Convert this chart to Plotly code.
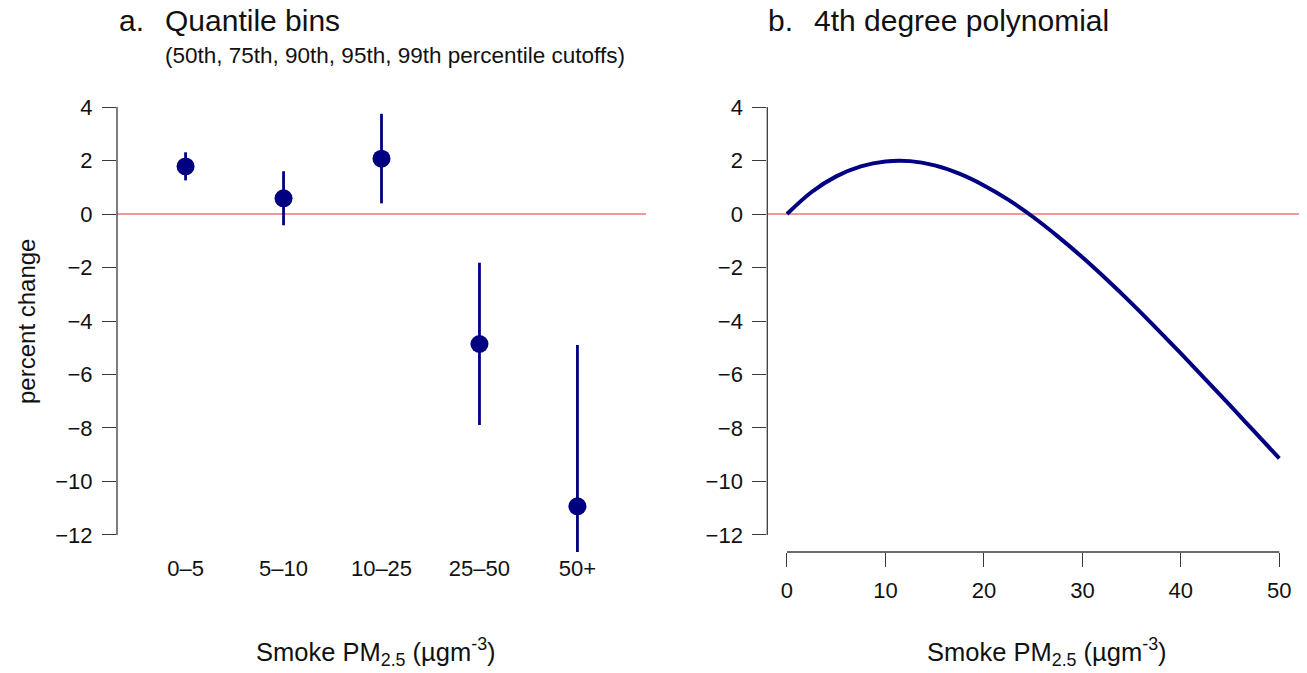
import plotly.graph_objects as go

# Panel a: effect estimates by smoke PM2.5 bin, with 95% intervals
bins = ["0–5", "5–10", "10–25", "25–50", "50+"]
bin_pos = [1, 2, 3, 4, 5]
estimate = [1.78, 0.59, 2.07, -4.86, -10.93]
ci_low = [1.26, -0.42, 0.40, -7.89, -16.96]
ci_high = [2.31, 1.60, 3.75, -1.82, -4.90]

# Panel b: fitted 4th degree polynomial response
pm_x = [0, 2.5, 5, 7.5, 10, 12.5, 15, 17.5, 20, 22.5, 25, 27.5, 30,
        32.5, 35, 37.5, 40, 42.5, 45, 47.5, 50]
pm_y = [0.0, 0.825, 1.41, 1.785, 1.97, 1.98, 1.82, 1.51, 1.07, 0.53, -0.11,
        -0.835, -1.62, -2.46, -3.34, -4.265, -5.215, -6.18, -7.16, -8.15, -9.14]

y_ticks = [4, 2, 0, -2, -4, -6, -8, -10, -12]
x2_ticks = [0, 10, 20, 30, 40, 50]

W, H = 1307, 673
NAVY = "#000080"
ZERO = "#F29A9A"
AXC = "#3a3a3a"
FONT = "Liberation Sans, Arial, Helvetica, sans-serif"


def px(x):
    return x / W


def py(y):
    return 1 - y / H


fig = go.Figure()

# interval segments (one trace, separated by gaps)
seg_x, seg_y = [], []
for p, lo, hi in zip(bin_pos, ci_low, ci_high):
    seg_x += [p, p, None]
    seg_y += [lo, hi, None]
fig.add_trace(go.Scatter(x=seg_x, y=seg_y, mode="lines",
                         line=dict(color=NAVY, width=2.8),
                         xaxis="x", yaxis="y", showlegend=False, hoverinfo="skip"))
fig.add_trace(go.Scatter(x=bin_pos, y=estimate, mode="markers",
                         marker=dict(color=NAVY, size=18),
                         xaxis="x", yaxis="y", showlegend=False))

fig.add_trace(go.Scatter(x=pm_x, y=pm_y, mode="lines",
                         line=dict(color=NAVY, width=4, shape="spline", smoothing=1.0),
                         xaxis="x2", yaxis="y2", showlegend=False))

y_dom = [py(552), py(90)]
y_rng = [-12.64, 4.64]
tickfont = dict(family=FONT, size=22, color="#111111")

yaxis_common = dict(
    domain=y_dom, range=y_rng, tickmode="array", tickvals=y_ticks,
    ticks="outside", ticklen=14, tickwidth=1.3, tickcolor=AXC,
    showline=False, showgrid=False, zeroline=False, tickfont=tickfont,
    ticklabelstandoff=5,
)

fig.update_layout(
    width=W, height=H, autosize=False,
    margin=dict(l=0, r=0, t=0, b=0),
    paper_bgcolor="white", plot_bgcolor="white",
    font=dict(family=FONT, color="#111111"),
    xaxis=dict(domain=[px(117), px(646)], range=[0.3, 5.7], anchor="y",
               tickmode="array", tickvals=bin_pos, ticktext=bins,
               ticks="", showline=False, showgrid=False, zeroline=False,
               tickfont=tickfont, ticklabelstandoff=1),
    yaxis=dict(anchor="x", **yaxis_common),
    xaxis2=dict(domain=[px(767.3), px(1299)], range=[-2, 52], anchor="y2",
                tickmode="array", tickvals=x2_ticks,
                ticks="outside", ticklen=14, tickwidth=1.3, tickcolor=AXC,
                showline=False, showgrid=False, zeroline=False,
                tickfont=tickfont, ticklabelstandoff=5),
    yaxis2=dict(anchor="x2", **yaxis_common),
)

shapes = [
    # zero reference lines
    dict(type="line", xref="x domain", yref="y", x0=0, x1=1, y0=0, y1=0,
         line=dict(color=ZERO, width=2), layer="below"),
    dict(type="line", xref="x2 domain", yref="y2", x0=0, x1=1, y0=0, y1=0,
         line=dict(color=ZERO, width=2), layer="below"),
    # axis lines spanning the tick range only
    dict(type="line", xref="x domain", yref="y", x0=0, x1=0, y0=-12, y1=4,
         line=dict(color=AXC, width=1.3)),
    dict(type="line", xref="x2 domain", yref="y2", x0=0, x1=0, y0=-12, y1=4,
         line=dict(color=AXC, width=1.3)),
    dict(type="line", xref="x2", yref="y2 domain", x0=0, x1=50, y0=0, y1=0,
         line=dict(color=AXC, width=1.3)),
]
fig.update_layout(shapes=shapes)

xlabel = "Smoke PM<sub>2.5</sub> (µgm<sup>-3</sup>)"
ann = [
    dict(text="a.", x=px(117), y=py(20), xanchor="left", yanchor="middle",
         font=dict(size=30)),
    dict(text="Quantile bins", x=px(163), y=py(20), xanchor="left", yanchor="middle",
         font=dict(size=30)),
    dict(text="(50th, 75th, 90th, 95th, 99th percentile cutoffs)", x=px(163), y=py(55),
         xanchor="left", yanchor="middle", font=dict(size=22.5)),
    dict(text="b.", x=px(766), y=py(20), xanchor="left", yanchor="middle",
         font=dict(size=30)),
    dict(text="4th degree polynomial", x=px(812), y=py(20), xanchor="left",
         yanchor="middle", font=dict(size=30)),
    dict(text=xlabel, x=px(376), y=py(652), xanchor="center", yanchor="middle",
         font=dict(size=25.5)),
    dict(text=xlabel, x=px(1047), y=py(652), xanchor="center", yanchor="middle",
         font=dict(size=25.5)),
    dict(text="percent change", x=px(26), y=py(322), xanchor="center",
         yanchor="middle", textangle=-90, font=dict(size=24)),
]
for a in ann:
    a.update(xref="paper", yref="paper", showarrow=False)
fig.update_layout(annotations=ann)

fig.write_html("out.html")
